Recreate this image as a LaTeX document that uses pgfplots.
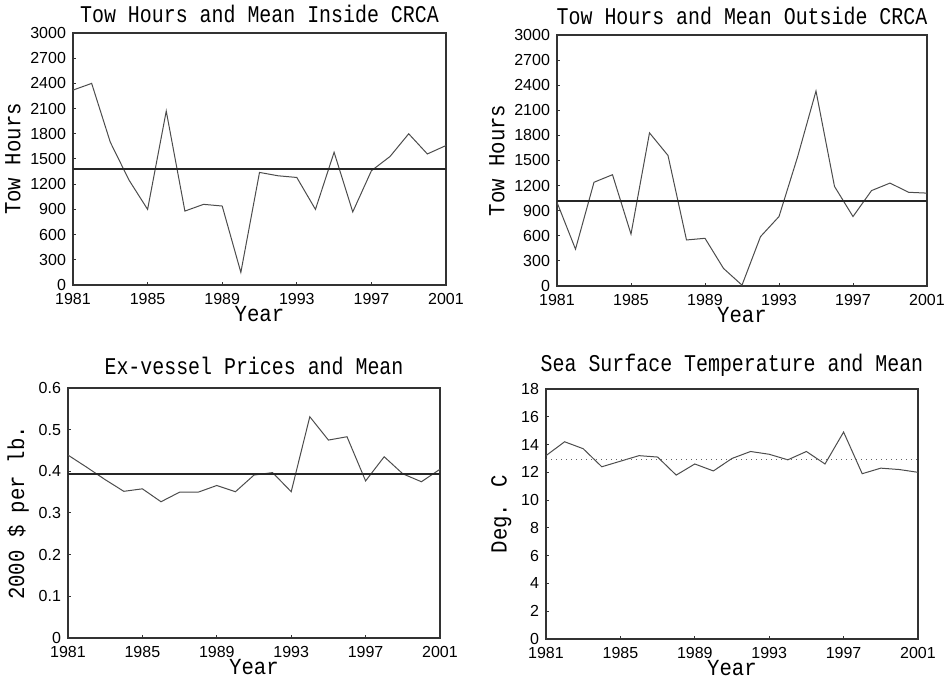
\documentclass[border=0pt]{standalone}
\usepackage{fontspec}
\usepackage{pgfplots}
\pgfplotsset{compat=1.18}
\newfontfamily\ttl[FakeStretch=0.9]{Liberation Mono}
\newfontfamily\ttlc[FakeStretch=0.83]{Liberation Mono}
\newfontfamily\tic{Liberation Sans}

\pgfplotsset{
  every axis title shift=0pt,
  panel/.style={
    scale only axis,
    anchor=south west,
    xmin=1981, xmax=2001,
    xtick={1981,1985,1989,1993,1997,2001},
    tick align=inside,
    xtick pos=bottom, ytick pos=left,
    major tick length=1.5pt,
    axis line style={black!80, line width=0.6pt},
    tick style={black!80, line width=0.5pt},
    /pgf/number format/assume math mode=true,
    /pgf/number format/1000 sep={},
    tick label style={font=\tic\fontsize{8}{9}\selectfont, black},
    xticklabel style={yshift=-0.5pt},
    title style={font=\ttlc\fontsize{12}{14}\selectfont, yshift=1.5pt},
    label style={font=\ttl\fontsize{11.5}{13}\selectfont},
    xlabel={Year},
    xlabel style={yshift=6pt},
    ylabel style={yshift=-2pt},
  },
  data/.style={black!70, line width=0.5pt, mark=none},
  mean/.style={black!85, line width=0.9pt, mark=none},
}

\begin{document}
\begin{tikzpicture}
\path[use as bounding box] (0pt,0pt) rectangle (474.5pt,341.5pt);

% top left
\begin{axis}[panel, at={(36.5pt,199pt)}, width=186.5pt, height=126pt,
  ymin=0, ymax=3000, ytick={0,300,...,3000},
  title={Tow Hours and Mean Inside CRCA}, ylabel={Tow Hours}]
\addplot[data] coordinates {
 (1981,2320) (1982,2400) (1983,1700) (1984,1250) (1985,900) (1986,2070)
 (1987,880) (1988,960) (1989,940) (1990,150) (1991,1340) (1992,1300)
 (1993,1280) (1994,900) (1995,1580) (1996,870) (1997,1360) (1998,1530)
 (1999,1800) (2000,1560) (2001,1660)};
\addplot[mean] coordinates {(1981,1380) (2001,1380)};
\end{axis}

% top right
\begin{axis}[panel, at={(278.5pt,198.5pt)}, width=185pt, height=125.5pt,
  ymin=0, ymax=3000, ytick={0,300,...,3000},
  title={Tow Hours and Mean Outside CRCA}, ylabel={Tow Hours}]
\addplot[data] coordinates {
 (1981,1000) (1982,440) (1983,1240) (1984,1330) (1985,620) (1986,1830)
 (1987,1560) (1988,550) (1989,570) (1990,210) (1991,10) (1992,590)
 (1993,830) (1994,1540) (1995,2330) (1996,1190) (1997,830) (1998,1140)
 (1999,1230) (2000,1120) (2001,1110)};
\addplot[mean] coordinates {(1981,1020) (2001,1020)};
\end{axis}

% bottom left
\begin{axis}[panel, at={(34pt,22.5pt)}, width=186pt, height=125pt,
  ymin=0, ymax=0.6, ytick={0,0.1,...,0.6},
  yticklabel style={/pgf/number format/fixed},
  title style={yshift=1.5pt},
  title={Ex-vessel Prices and Mean}, ylabel={2000 \$ per lb.}]
\addplot[data] coordinates {
 (1981,0.439) (1982,0.410) (1983,0.380) (1984,0.352) (1985,0.358) (1986,0.327)
 (1987,0.350) (1988,0.350) (1989,0.366) (1990,0.351) (1991,0.391) (1992,0.397)
 (1993,0.351) (1994,0.531) (1995,0.475) (1996,0.483) (1997,0.377) (1998,0.435)
 (1999,0.394) (2000,0.375) (2001,0.405)};
\addplot[mean] coordinates {(1981,0.394) (2001,0.394)};
\end{axis}

% bottom right
\begin{axis}[panel, at={(273pt,22pt)}, width=186pt, height=125pt,
  ymin=0, ymax=18, ytick={0,2,...,18},
  title style={yshift=1pt},
  title={Sea Surface Temperature and Mean}, ylabel={Deg. C}]
\addplot[data] coordinates {
 (1981,13.2) (1982,14.2) (1983,13.7) (1984,12.4) (1985,12.8) (1986,13.2)
 (1987,13.1) (1988,11.8) (1989,12.6) (1990,12.1) (1991,13.0) (1992,13.5)
 (1993,13.3) (1994,12.9) (1995,13.5) (1996,12.6) (1997,14.9) (1998,11.9)
 (1999,12.3) (2000,12.2) (2001,12.0)};
\addplot[black!60, line width=0.5pt, dotted, mark=none] coordinates {(1981,12.9) (2001,12.9)};
\end{axis}
\end{tikzpicture}
\end{document}
